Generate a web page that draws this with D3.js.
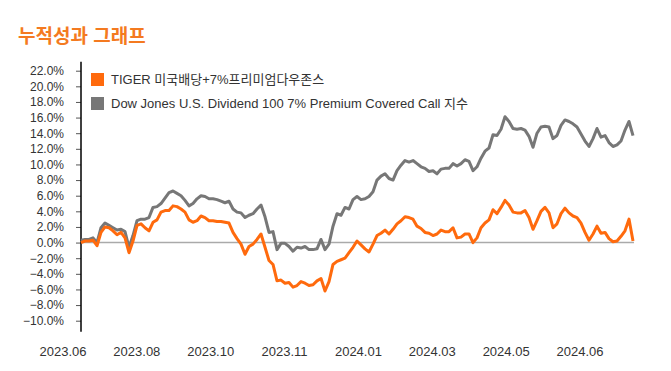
<!DOCTYPE html>
<html lang="ko">
<head>
    <meta charset="UTF-8">
    <script src="https://d3js.org/d3.v7.min.js"></script>
    <title>누적성과 그래프</title>
    <style>
        body { margin: 0; background: #fff; }
        text { font-family: "Liberation Sans", "Noto Sans CJK KR", sans-serif; }
    </style>
</head>
<body>
    <div id="my_dataviz"></div>
</body>
<script>
    // series names
    const seriesNames = ["TIGER 미국배당+7%프리미엄다우존스", "Dow Jones U.S. Dividend 100 7% Premium Covered Call 지수"];

    // cumulative return (%) at even steps
    const tiger = [0.0, 0.2, 0.2, 0.3, -0.4, 1.3, 2.0, 1.9, 1.5, 1.0, 1.3, 0.6, -1.3, 0.2, 2.2, 2.4, 1.9, 1.5, 2.6, 2.9,
        3.9, 4.1, 4.1, 4.7, 4.6, 4.3, 3.9, 2.9, 2.6, 2.8, 3.4, 3.2, 2.8, 2.8, 2.7, 2.7, 2.6, 2.5, 1.3, 0.5,
        -0.2, -1.5, -0.5, -0.2, 0.4, 1.1, -0.6, -2.3, -2.8, -4.9, -4.8, -5.2, -5.1, -5.7, -5.5, -5.0, -5.2, -5.5, -5.4, -4.9,
        -4.6, -6.2, -5.0, -2.8, -2.4, -2.2, -2.0, -1.3, -0.6, 0.2, -0.3, -0.8, -1.2, -0.2, 0.9, 1.2, 1.6, 1.1, 1.7, 2.4,
        2.8, 3.3, 3.2, 3.0, 2.1, 1.8, 1.3, 1.2, 0.9, 1.1, 1.6, 1.4, 1.4, 1.9, 0.6, 0.7, 1.1, 1.1, 0.0, 0.6,
        1.9, 2.5, 2.9, 4.2, 3.7, 4.5, 5.4, 4.8, 3.9, 3.8, 3.8, 4.1, 3.2, 1.7, 2.8, 4.0, 4.5, 3.8, 1.9, 2.4,
        3.7, 4.4, 3.8, 3.4, 3.2, 2.5, 1.3, 0.3, 1.1, 2.1, 1.2, 1.3, 0.5, 0.1, 0.2, 0.8, 1.5, 3.0, 0.2];

    const index = [0.3, 0.4, 0.4, 0.6, 0.0, 1.9, 2.5, 2.2, 1.9, 1.6, 1.7, 1.4, -0.6, 0.9, 2.8, 3.0, 3.0, 3.2, 4.5, 4.6,
        5.0, 5.7, 6.4, 6.6, 6.3, 6.0, 5.4, 4.7, 5.0, 5.6, 6.0, 5.9, 5.6, 5.6, 5.5, 5.3, 5.1, 5.3, 4.3, 3.9,
        3.8, 3.2, 3.5, 3.7, 4.3, 4.8, 3.3, 1.3, 1.4, -0.9, -0.1, -0.1, -0.5, -1.1, -0.6, -0.7, -0.5, -0.9, -0.9, -0.8,
        0.4, -0.9, -0.2, 2.1, 3.7, 3.5, 4.5, 4.3, 5.5, 5.9, 5.5, 5.6, 5.9, 6.5, 8.0, 8.5, 8.8, 8.2, 8.0, 9.2,
        9.9, 10.5, 10.3, 10.5, 10.1, 9.7, 9.5, 9.1, 9.2, 8.8, 9.4, 9.5, 9.5, 10.1, 9.8, 10.1, 10.6, 10.4, 9.2, 9.7,
        10.8, 11.7, 12.1, 13.8, 13.7, 14.5, 16.1, 15.5, 14.6, 14.5, 14.6, 14.4, 13.6, 12.2, 14.0, 14.8, 14.9, 14.8, 13.3, 13.7,
        15.0, 15.7, 15.5, 15.2, 14.8, 13.9, 13.0, 12.3, 13.3, 14.6, 13.5, 13.7, 12.8, 12.3, 12.5, 13.0, 14.4, 15.5, 13.7];

    // axis labels
    const xLabels = ["2023.06", "2023.08", "2023.10", "2023.11", "2024.01", "2024.03", "2024.05", "2024.06"];
    const yTicks = [-10, -8, -6, -4, -2, 0, 2, 4, 6, 8, 10, 12, 14, 16, 18, 20, 22];

    const W = 671, H = 371;
    const plot = {left: 81, right: 633, top: 70.7, bottom: 320.7};
    const orange = "#FF6A0D", grey = "#777777";

    let svg = d3.select("#my_dataviz").append("svg")
                .attr("width", W)
                .attr("height", H);

    //title
    svg.append("text")
       .attr("x", 18).attr("y", 43)
       .style("font-family", "'Noto Sans CJK KR', sans-serif")
       .style("font-size", "19px")
       .style("font-weight", "bold")
       .style("fill", "#F47A20")
       .text("누적성과 그래프");

    //scales
    let x = d3.scaleLinear().domain([0, tiger.length - 1]).range([plot.left, plot.right]);
    let y = d3.scaleLinear().domain([-10, 22]).range([plot.bottom, plot.top]);
    let xl = d3.scalePoint().domain(xLabels).range([63, 580]);

    //zero line
    svg.append("line")
       .attr("x1", plot.left).attr("x2", plot.right + 1)
       .attr("y1", y(0)).attr("y2", y(0))
       .attr("stroke", "#AAAAAA").attr("stroke-width", 1.5);

    //Y axis
    let yAxis = svg.append("g")
       .attr("transform", "translate(" + plot.left + ",0)")
       .call(d3.axisLeft(y).tickValues(yTicks).tickSize(5).tickPadding(12)
             .tickFormat(d => d3.format(".1f")(d).replace("-", "\u2212") + "%"));
    yAxis.select(".domain").remove();
    yAxis.selectAll(".tick line").attr("stroke", "#555");
    yAxis.selectAll(".tick text")
         .style("font-family", "'Liberation Sans', sans-serif")
         .style("font-size", "12px")
         .style("fill", "#333");

    svg.append("line")
       .attr("x1", plot.left).attr("x2", plot.left)
       .attr("y1", y(22) - 9).attr("y2", y(-10) + 11)
       .attr("stroke", "#000").attr("stroke-width", 1.5);

    //X labels
    svg.append("g").selectAll("text").data(xLabels).enter()
       .append("text")
       .attr("x", d => xl(d))
       .attr("y", 356)
       .attr("text-anchor", "middle")
       .style("font-size", "13px")
       .style("fill", "#333")
       .text(d => d);

    //lines
    let line = d3.line().x((d, i) => x(i)).y(d => y(d));
    [[index, grey], [tiger, orange]].forEach(function (s) {
        svg.append("path")
           .datum(s[0])
           .attr("fill", "none")
           .attr("stroke", s[1])
           .attr("stroke-width", 3)
           .attr("stroke-linejoin", "round")
           .attr("d", line);
    });

    //legend
    let legend = svg.append("g").selectAll("g").data(seriesNames).enter()
       .append("g")
       .attr("transform", (d, i) => "translate(91," + (73 + i * 24) + ")");
    legend.append("rect")
       .attr("width", 13).attr("height", 13)
       .style("fill", (d, i) => i == 0 ? orange : grey);
    legend.append("text")
       .attr("x", 20).attr("y", 11)
       .style("font-size", "13px")
       .style("fill", "#333")
       .text(d => d);
</script>
</html>
